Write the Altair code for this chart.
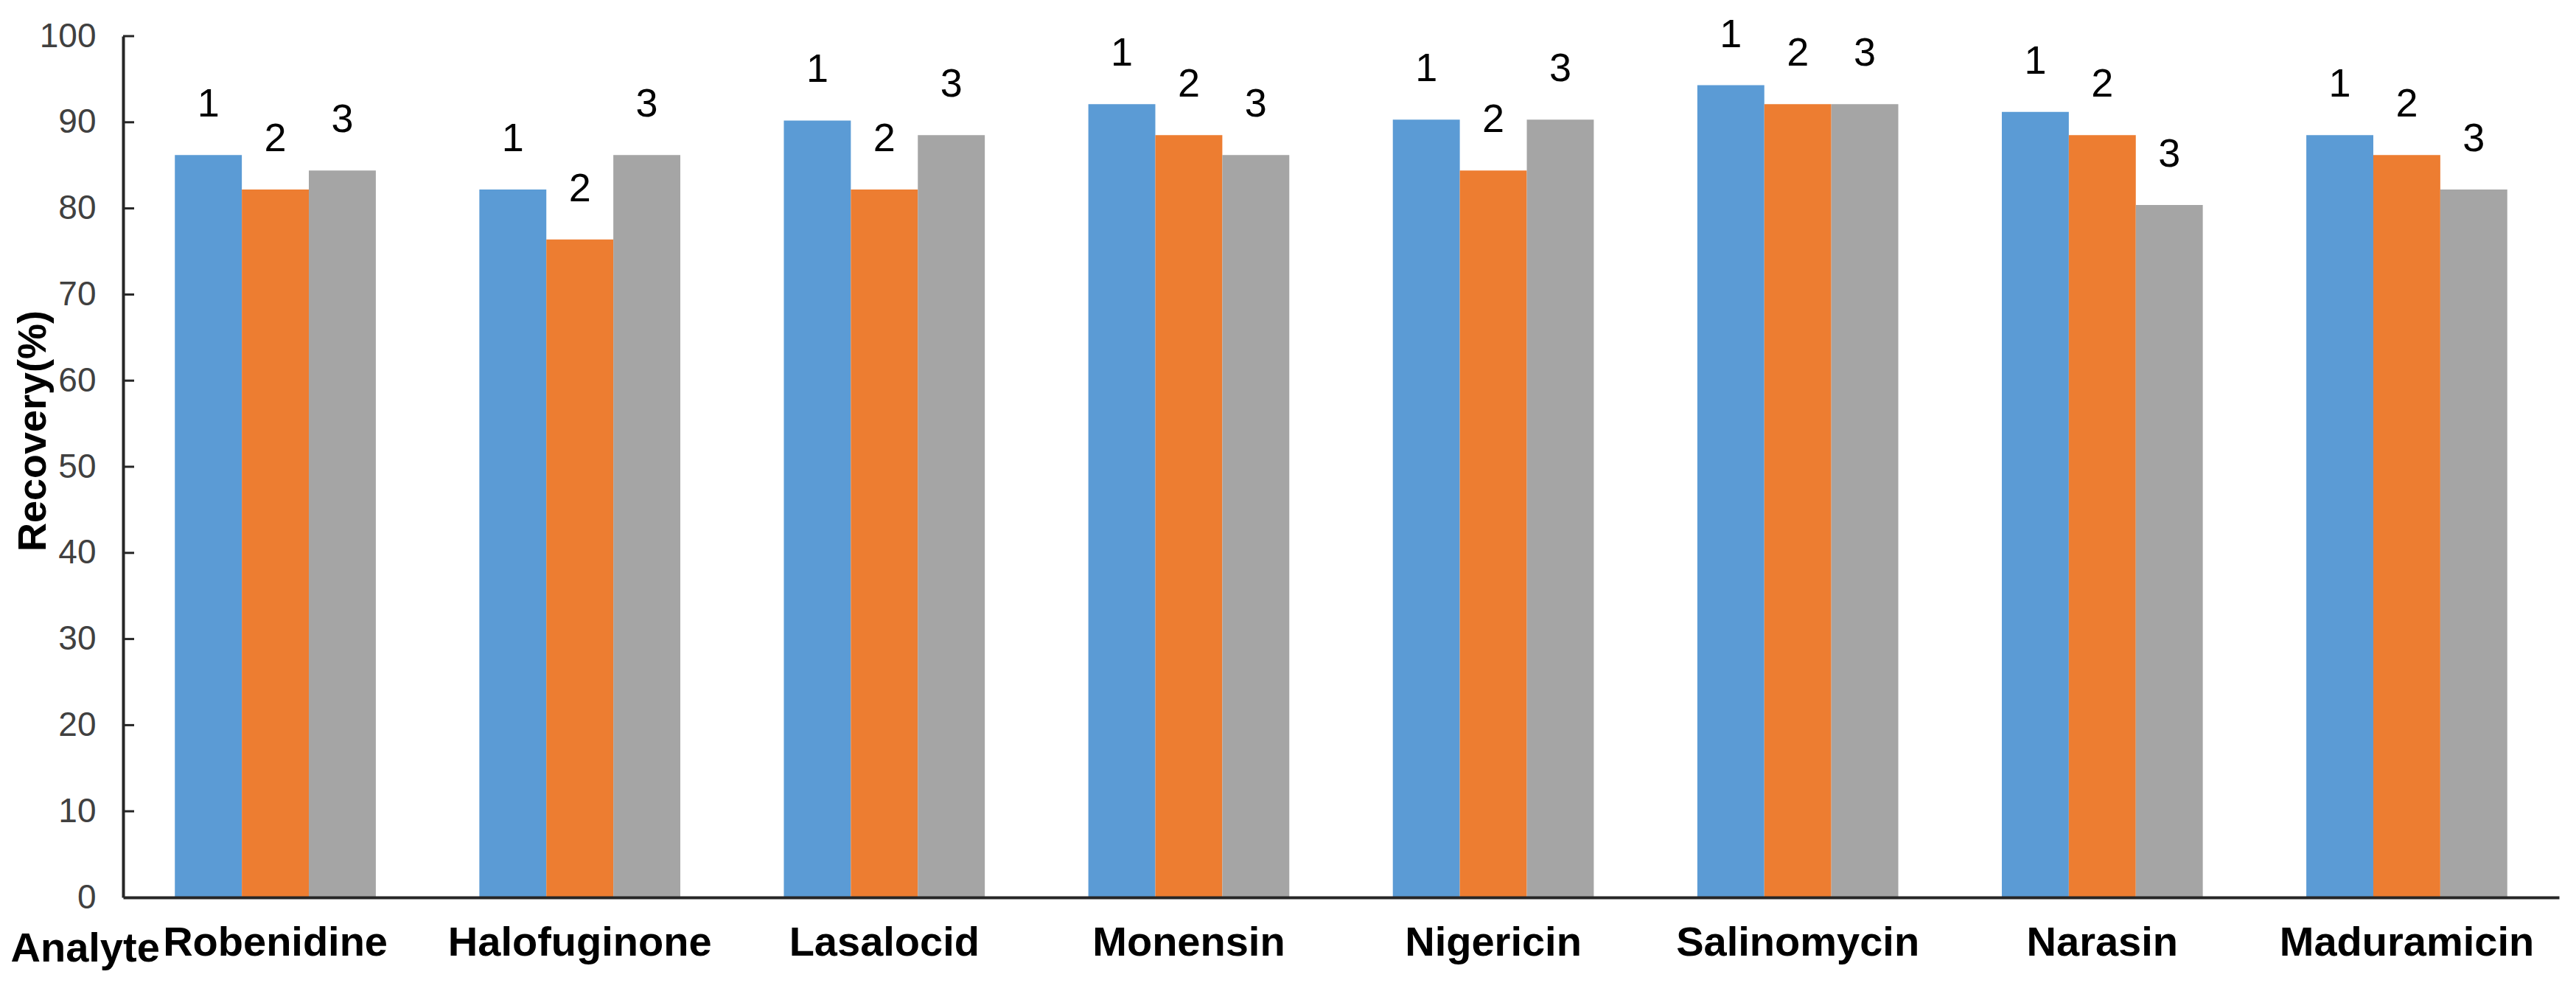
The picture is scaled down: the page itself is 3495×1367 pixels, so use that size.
import altair as alt
import pandas as pd

analytes = ["Robenidine", "Halofuginone", "Lasalocid", "Monensin",
            "Nigericin", "Salinomycin", "Narasin", "Maduramicin"]
series = ["1", "2", "3"]
recovery_1 = [86.2, 82.2, 90.2, 92.1, 90.3, 94.3, 91.2, 88.5]
recovery_2 = [82.2, 76.4, 82.2, 88.5, 84.4, 92.1, 88.5, 86.2]
recovery_3 = [84.4, 86.2, 88.5, 86.2, 90.3, 92.1, 80.4, 82.2]
y_ticks = [0, 10, 20, 30, 40, 50, 60, 70, 80, 90, 100]
colors = ["#5B9BD5", "#ED7D31", "#A5A5A5"]

rows = []
for s, vals in zip(series, [recovery_1, recovery_2, recovery_3]):
    for a, v in zip(analytes, vals):
        rows.append({"Analyte": a, "Series": s, "Recovery": v})
df = pd.DataFrame(rows)

FONT = "Liberation Sans, Arial, sans-serif"
AXIS_COLOR = "#262626"

xscale = alt.Scale(domain=analytes, paddingInner=0.34, paddingOuter=0.17)
yscale = alt.Scale(domain=[0, 100], nice=False, zero=True)

y_axis = alt.Axis(title="Recovery(%)", values=y_ticks, ticks=False, tickSize=0,
                  grid=False, domainColor=AXIS_COLOR, domainWidth=4,
                  labelFont=FONT, labelFontSize=46, labelColor="#404040",
                  labelPadding=37,
                  titleFont=FONT, titleFontSize=54, titleFontWeight="bold",
                  titleColor="#000000", titleAngle=270, titleX=-122, titleY=535,
                  titleAlign="center", titleBaseline="middle",
                  zindex=1)

base = alt.Chart(df).encode(
    x=alt.X("Analyte:N", scale=xscale, sort=analytes,
            axis=alt.Axis(title="Analyte", ticks=False, tickSize=0, grid=False,
                          domainColor=AXIS_COLOR, domainWidth=4,
                          labelFont=FONT, labelFontSize=56, labelFontWeight="bold",
                          labelColor="#000000", labelAngle=0, labelPadding=34,
                          labelBaseline="top", labelLimit=0,
                          titleFont=FONT, titleFontSize=56, titleFontWeight="bold",
                          titleColor="#000000", titleX=-153, titleY=86,
                          titleAlign="left", titleBaseline="alphabetic",
                          zindex=1)),
    xOffset=alt.XOffset("Series:N",
                        scale=alt.Scale(domain=series, paddingInner=0, paddingOuter=0)),
    y=alt.Y("Recovery:Q", scale=yscale, axis=y_axis),
)

bars = base.mark_bar().encode(
    color=alt.Color("Series:N", scale=alt.Scale(domain=series, range=colors), legend=None)
)

labels = base.mark_text(baseline="alphabetic", dy=-52, font=FONT, fontSize=54,
                        color="#000000").encode(text="Series:N")

tick_df = pd.DataFrame({"Recovery": y_ticks[1:]})
inner_ticks = alt.Chart(tick_df).mark_rule(strokeWidth=3, color=AXIS_COLOR).encode(
    y=alt.Y("Recovery:Q", scale=yscale, axis=y_axis),
    x=alt.value(0),
    x2=alt.value(15),
)

chart = alt.layer(bars, labels, inner_ticks).properties(
    width=3305,
    height=1168,
    autosize=alt.AutoSizeParams(type="none"),
    padding={"left": 159, "top": 41, "right": 15, "bottom": 140},
    background="white",
).configure_view(stroke=None)

chart.save("out.html", embed_options={"renderer": "svg", "actions": False})
